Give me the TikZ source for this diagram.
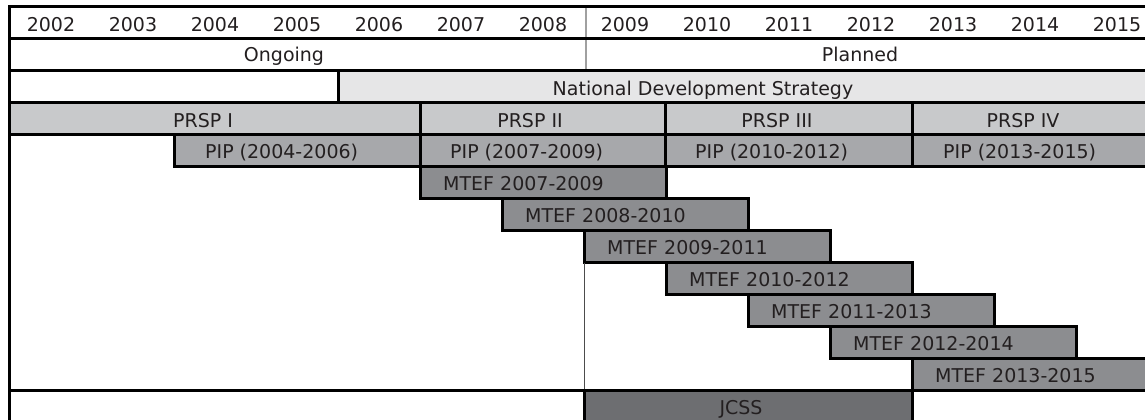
\documentclass[tikz,border=0pt]{standalone}
\usepackage{fontspec}
\setmainfont{DejaVu Sans}
\definecolor{ndsc}{HTML}{E6E6E7}
\definecolor{prspc}{HTML}{C8C9CB}
\definecolor{pipc}{HTML}{A7A8AB}
\definecolor{mtefc}{HTML}{8C8D90}
\definecolor{jcssc}{HTML}{6D6E71}
\definecolor{txtc}{HTML}{231F20}
\definecolor{sepc}{HTML}{A0A0A0}
\begin{document}
\begin{tikzpicture}[x=1pt,y=-1pt,
  lbl/.style={font=\fontsize{19}{19}\selectfont, text=txtc, inner sep=0pt, anchor=base},
  lblw/.style={lbl, anchor=base west},
  bar/.style={draw=black, line width=3pt, inner sep=0pt, outer sep=0pt, anchor=north west, minimum height=32pt},
  frame/.style={draw=black, line width=3pt},
  thinsep/.style={draw=sepc, line width=1.2pt},
  thindark/.style={draw=black!70, line width=1pt},
]
\useasboundingbox (0,0) rectangle (1145,420);
\clip (0,0) rectangle (1145,420);
\fill[white] (0,0) rectangle (1145,420);

% header frame
\coordinate (div1) at (586,7);
\coordinate (div2) at (586,70);
\draw[thinsep] (div1) -- (div2);
\draw[frame] (1170,7) -- (9,7) -- (9,440);
\draw[frame] (9,38.5) -- (1170,38.5);
\draw[frame] (9,70) -- (1170,70);

% years
\foreach \y [count=\i from 0] in {2002,...,2015}{
  \node[lbl] (y\y) at ({10+82*\i+41},32) {\y};
}
\node[lbl] (ongoing) at (284,62) {Ongoing};
\node[lbl] (planned) at (860,62) {Planned};

% NDS
\node[bar, fill=ndsc, minimum width=840pt] (nds) at (338,70) {};
\node[lbl] (ndsl) at (703,95) {National Development Strategy};

% PRSP
\node[bar, fill=prspc, minimum width=411pt] (prsp1) at (9,102.5) {};
\node[bar, fill=prspc, minimum width=245pt] (prsp2) at (420,102.5) {};
\node[bar, fill=prspc, minimum width=247pt] (prsp3) at (665,102.5) {};
\node[bar, fill=prspc, minimum width=260pt] (prsp4) at (912,102.5) {};
\node[lbl] (prsp1l) at (203,127) {PRSP I};
\node[lbl] (prsp2l) at (530,127) {PRSP II};
\node[lbl] (prsp3l) at (777,127) {PRSP III};
\node[lbl] (prsp4l) at (1023,127) {PRSP IV};

% PIP
\node[bar, fill=pipc, minimum width=246pt] (pip1) at (174,134.5) {};
\node[bar, fill=pipc, minimum width=245pt] (pip2) at (420,134.5) {};
\node[bar, fill=pipc, minimum width=247pt] (pip3) at (665,134.5) {};
\node[bar, fill=pipc, minimum width=260pt] (pip4) at (912,134.5) {};
\node[lblw] (pip1l) at (205,158.5) {PIP (2004-2006)};
\node[lblw] (pip2l) at (450,158.5) {PIP (2007-2009)};
\node[lblw] (pip3l) at (695,158.5) {PIP (2010-2012)};
\node[lblw] (pip4l) at (943,158.5) {PIP (2013-2015)};

% MTEF
\foreach \s [count=\i from 0] in {2007,...,2013}{
  \pgfmathtruncatemacro{\e}{\s+2}
  \node[bar, fill=mtefc, minimum width=246pt] (m\s) at ({420+82*\i},{166.5+32*\i}) {};
  \node[lblw] (m\s l) at ({443+82*\i},{190.5+32*\i}) {MTEF \s-\e};
}

% JCSS row
\coordinate (jl) at (9,390.5);
\draw[thindark] (m2009.south west) -- (584,390.5);
\node[bar, fill=jcssc, minimum width=328pt, minimum height=45pt] (jcss) at (584,390.5) {};
\draw[frame] (jl) -- (jcss.north west);
\node[lbl] (jcssl) at (741,414.5) {JCSS};
\end{tikzpicture}
\end{document}
